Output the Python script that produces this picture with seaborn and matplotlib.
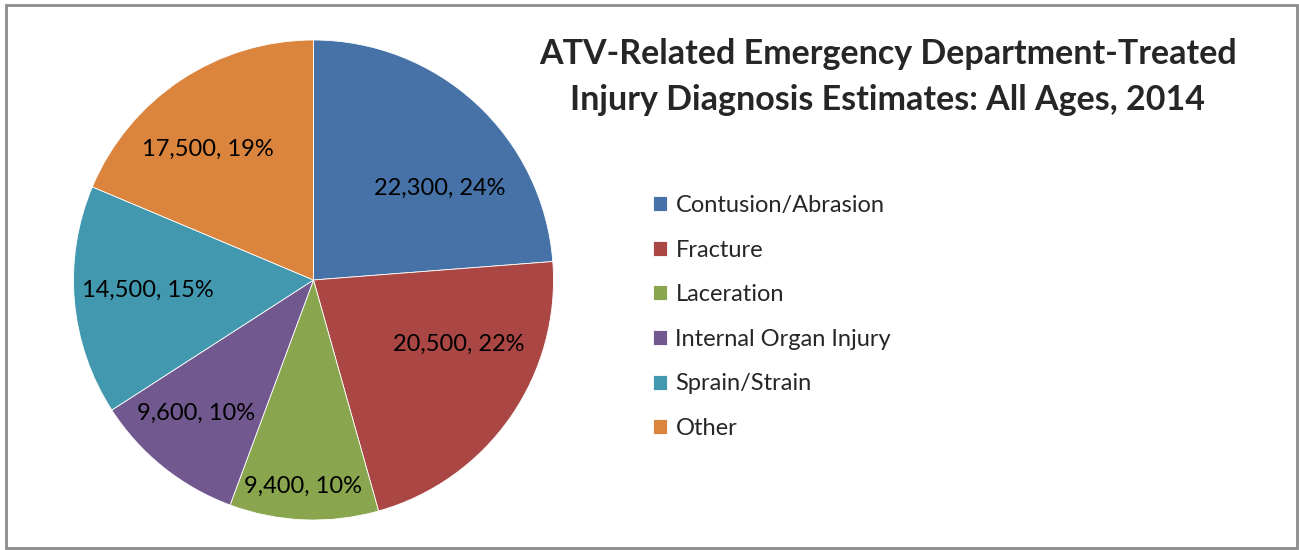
import numpy as np
import matplotlib
matplotlib.use("Agg")
import matplotlib.pyplot as plt
import seaborn as sns
from matplotlib.patches import Rectangle

# data
categories = ["Contusion/Abrasion", "Fracture", "Laceration",
              "Internal Organ Injury", "Sprain/Strain", "Other"]
injuries = [22300, 20500, 9400, 9600, 14500, 17500]

colors = ["#4672A8", "#AA4644", "#89A54E", "#71588F", "#4198AF", "#DB843D"]

# label placement (fraction of radius, angle shift in degrees), mimics Excel best fit
label_r = [0.65, 0.66, 0.86, 0.74, 0.69, 0.70]
label_shift = [-11.0, 11.0, -0.6, -2.8, -1.5, 5.4]

sns.set_theme(style="white")
plt.rcParams["font.family"] = ["Lato", "DejaVu Sans"]

W, H = 1299, 550
fig = plt.figure(figsize=(W / 100, H / 100), dpi=100)
fig.patch.set_facecolor("white")

# chart frame
fig.add_artist(Rectangle((6 / W, 2 / H), 1291 / W, 543 / H, transform=fig.transFigure,
                         fill=False, edgecolor="#8c8c8c", linewidth=2))

cx, cy, r = 313.5, 280, 240
ax = fig.add_axes([(cx - r) / W, (H - cy - r) / H, 2 * r / W, 2 * r / H])

palette = sns.color_palette(colors)
wedges, _ = ax.pie(injuries, colors=palette, startangle=90, counterclock=False,
                   wedgeprops=dict(edgecolor="white", linewidth=0.6))
ax.set_xlim(-1, 1)
ax.set_ylim(-1, 1)
ax.set_aspect("equal")

total = sum(injuries)
for w, v, lr, sh in zip(wedges, injuries, label_r, label_shift):
    mid = np.deg2rad((w.theta1 + w.theta2) / 2 + sh)
    ax.text(lr * np.cos(mid), lr * np.sin(mid), f"{v:,}, {round(100 * v / total)}%",
            ha="center", va="center", fontsize=17, color="black")

fig.text(888 / W, 1 - 77 / H,
         "ATV-Related Emergency Department-Treated\nInjury Diagnosis Estimates: All Ages, 2014",
         ha="center", va="center", fontsize=24.5, fontweight="bold", linespacing=1.5)

fig.legend(wedges, categories, loc="upper left", bbox_to_anchor=(653 / W, 1 - 195 / H),
           frameon=False, fontsize=17, handlelength=0.6, handleheight=0.6,
           handletextpad=0.35, labelspacing=1.0, borderpad=0, borderaxespad=0)

fig.savefig("out.png", dpi=100, facecolor="white")
